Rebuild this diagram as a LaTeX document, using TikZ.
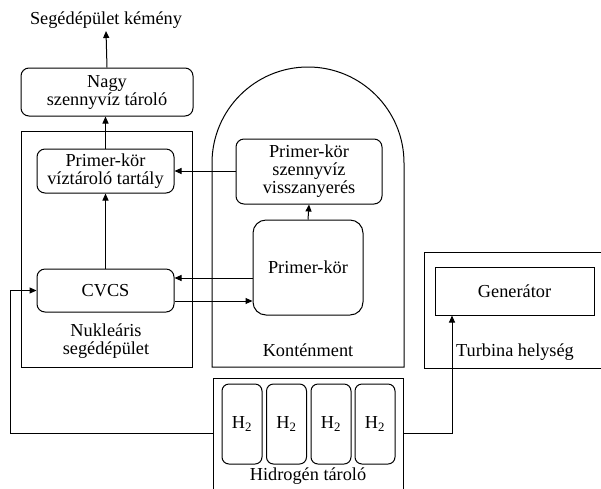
\documentclass[tikz,border=0pt]{standalone}
\usepackage{fontspec}
\setmainfont{Liberation Serif}
\usetikzlibrary{arrows.meta}
\begin{document}
\begin{tikzpicture}[x=1pt,y=-1pt,
  every node/.style={font=\fontsize{18.3}{18}\selectfont, align=center, inner sep=0pt},
  line/.style={line width=1pt},
  arr/.style={line width=1pt,-{Triangle[length=7pt,width=6pt]}},
  rbox/.style={draw, line width=1pt, rounded corners=8pt},
  sbox/.style={draw, line width=1pt},
  tank/.style={draw, line width=1pt, rounded corners=7pt, minimum width=40pt, minimum height=80pt}
]
\useasboundingbox (0,0) rectangle (601,488);
% labels
\node (kemeny) at (106,20) {Segédépület kémény};
\coordinate (kemenyb) at (106,31);
% boxes
\node[rbox, minimum width=172pt, minimum height=48pt] (nagy) at (107,92) {Nagy\\szennyvíz tároló};
\node[sbox, minimum width=171pt, minimum height=236pt] (nuk) at (106.5,249) {};
\node (nuklab) at (106,341) {Nukleáris\\segédépület};
\node[rbox, minimum width=137pt, minimum height=44pt] (viz) at (105.5,171) {Primer-kör\\víztároló tartály};
\node[rbox, minimum width=137pt, minimum height=43pt] (cvcs) at (105.5,290.5) {CVCS};
% containment
\draw[line] (212,367) -- (212,163) arc[start angle=180, end angle=0, radius=96pt] -- (404,367) -- cycle;
\node (kontlab) at (308,350) {Konténment};
\node[rbox, minimum width=146pt, minimum height=65pt] (visz) at (309,171.5) {Primer-kör\\szennyvíz\\visszanyerés};
\node[draw, line width=1pt, rounded corners=13pt, minimum width=110pt, minimum height=95pt] (primer) at (308,267.5) {Primer-kör};
% turbine hall
\draw[line] (605,252) -- (424,252) -- (424,368) -- (605,368);
\node[sbox, minimum width=159pt, minimum height=48pt] (gen) at (514.5,291) {Generátor};
\node (turblab) at (515,352) {Turbina helység};
% hydrogen storage
\draw[line] (213,495) -- (213,378) -- (403,378) -- (403,495);
\node[tank] (h1) at (242,424) {H\textsubscript{2}};
\node[tank] (h2) at (286.5,424) {H\textsubscript{2}};
\node[tank] (h3) at (331,424) {H\textsubscript{2}};
\node[tank] (h4) at (375,424) {H\textsubscript{2}};
\node (hydlab) at (308,476) {Hidrogén tároló};
\coordinate (hydL) at (213,433);
\coordinate (hydR) at (403,433);
\coordinate (leftc) at (10,433);
\coordinate (rightc) at (452,433);
% connectors
\draw[arr] (nagy.north) -- (kemenyb);
\draw[arr] (viz.north) -- (viz.north |- nagy.south);
\draw[arr] (cvcs.north) -- (viz.south);
\draw[arr] (visz.west |- viz.east) -- (viz.east);
\draw[arr] (primer.west |- 0,278) -- (cvcs.east |- 0,278);
\draw[arr] (cvcs.east |- 0,301) -- (primer.west |- 0,301);
\draw[arr] (primer.north) -- (visz.south);
\draw[arr] (hydL) -- (leftc) |- (cvcs.west);
\draw[arr] (hydR) -- (rightc) -- (rightc |- gen.south);
\end{tikzpicture}
\end{document}
